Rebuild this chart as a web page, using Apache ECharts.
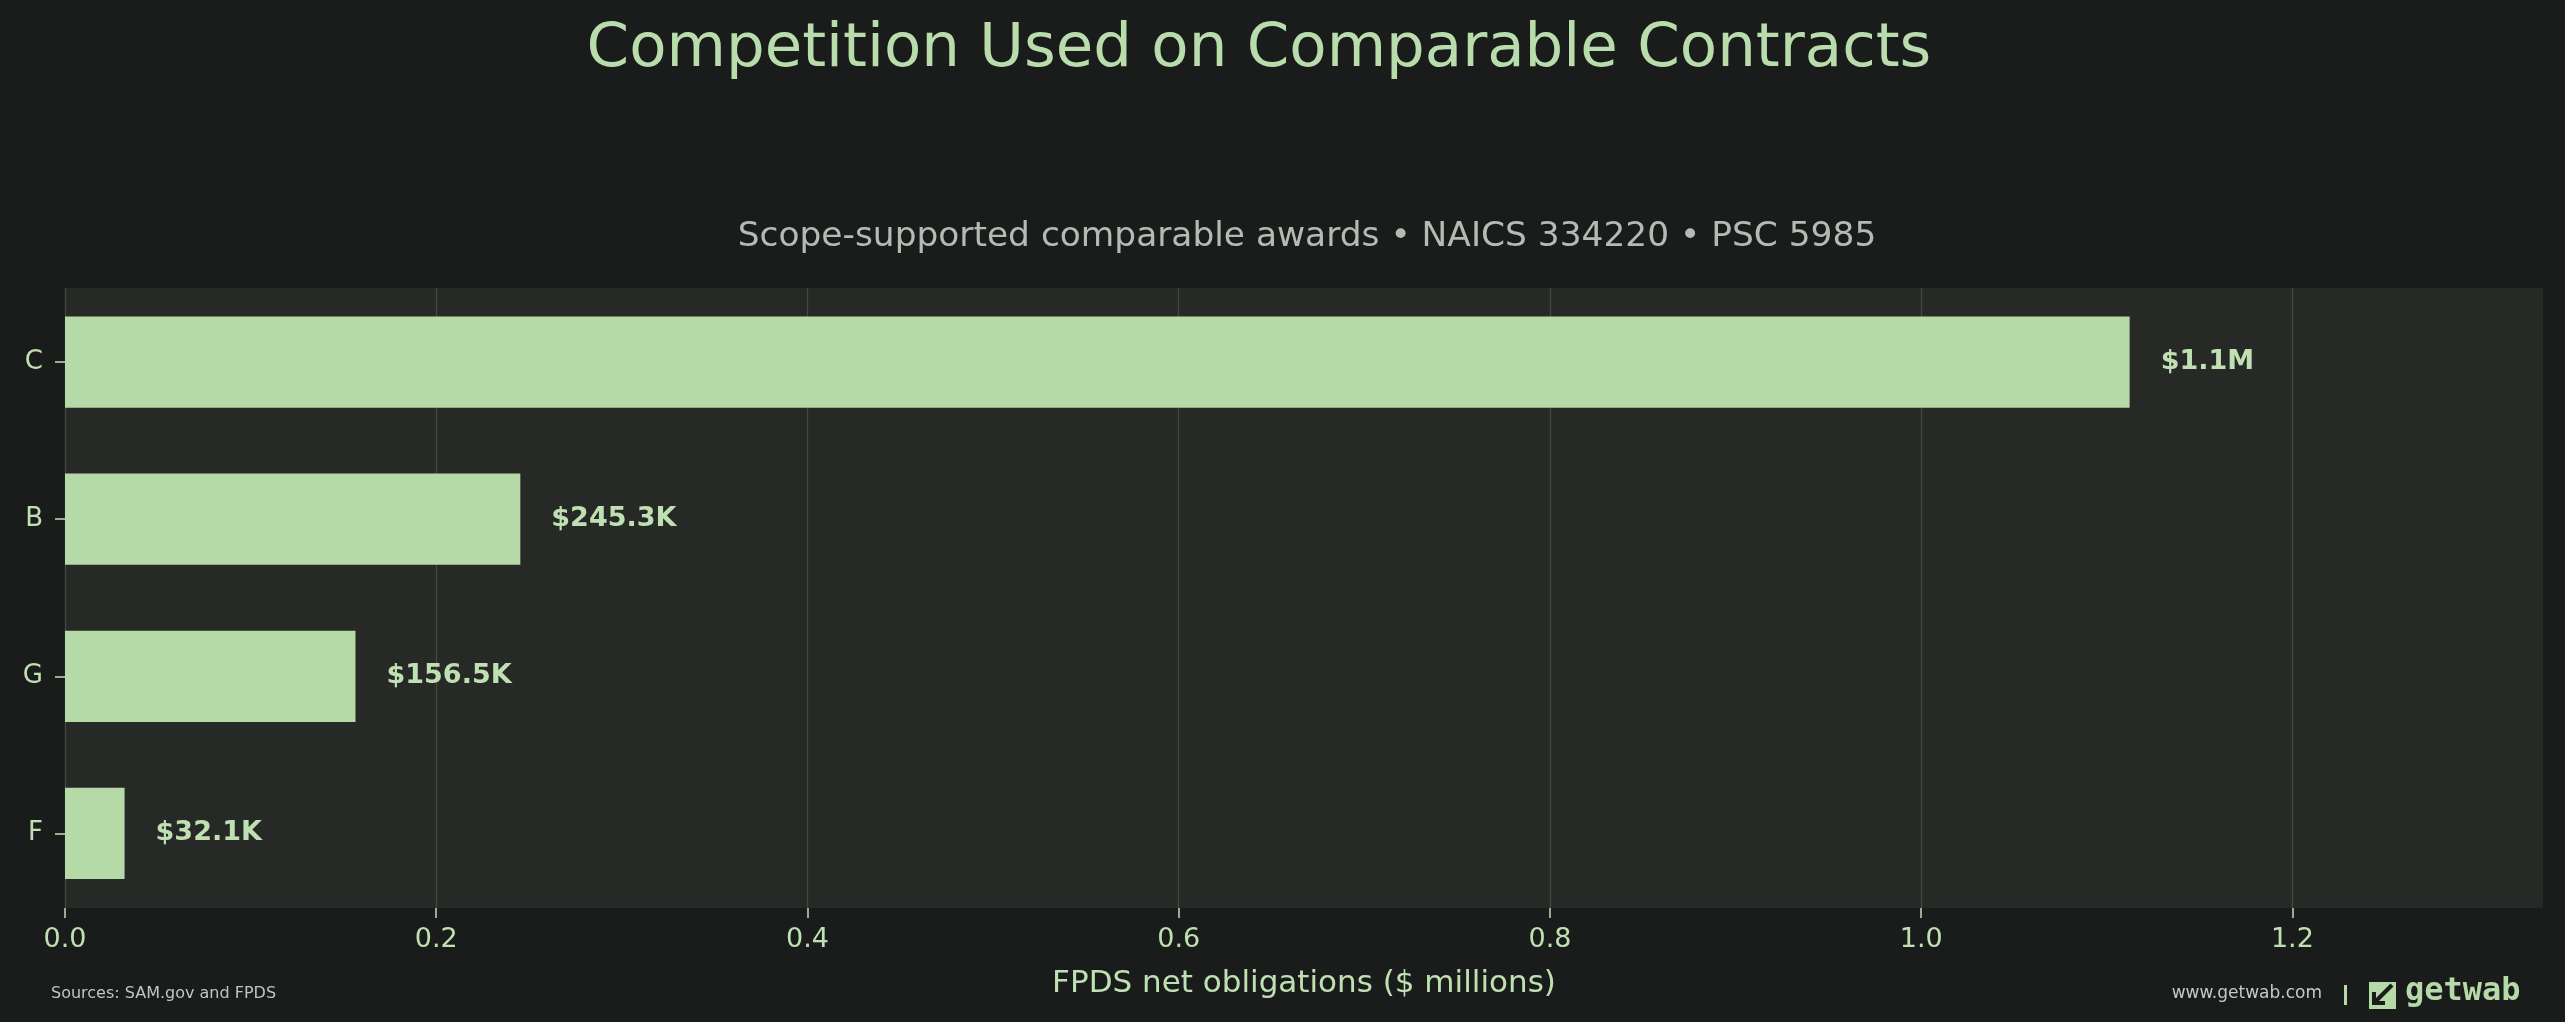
<!DOCTYPE html>
<html>
<head>
<meta charset="utf-8">
<script src="https://cdn.jsdelivr.net/npm/echarts@6/dist/echarts.min.js"></script>
<style>
html,body{margin:0;padding:0;background:#1a1c1b;}
#chart{width:2565px;height:1022px;}
</style>
</head>
<body>
<div id="chart"></div>
<script>
// ---- data ----
const categories = ['C', 'B', 'G', 'F'];
const obligations = [1.1123, 0.2453, 0.1565, 0.0321]; // $ millions
const tickValues = [0, 0.2, 0.4, 0.6, 0.8, 1.0, 1.2];
const axisMax = 1.335;

const titleText = 'Competition Used on Comparable Contracts';
const subtitleText = 'Scope-supported comparable awards \u2022 NAICS 334220 \u2022 PSC 5985';
const xAxisName = 'FPDS net obligations ($ millions)';
const sourceText = 'Sources: SAM.gov and FPDS';
const siteText = 'www.getwab.com';
const brandText = 'getwab';

function money(v) {
  if (v >= 1) return '$' + v.toFixed(1) + 'M';
  return '$' + (v * 1000).toFixed(1) + 'K';
}

const FONT = 'DejaVu Sans';
const GREEN = '#b5d9a7';
const LABEL = '#bfe0b2';

const chart = echarts.init(document.getElementById('chart'), null, {renderer: 'canvas'});
chart.setOption({
  backgroundColor: '#1a1c1b',
  animation: false,
  title: [
    {
      text: titleText, left: 1254, top: 15, textAlign: 'center',
      textStyle: {fontFamily: FONT, fontSize: 61, fontWeight: 'normal', color: '#b9dcac'}
    },
    {
      text: subtitleText, left: 1302, top: 215, textAlign: 'center',
      textStyle: {fontFamily: FONT, fontSize: 34.4, fontWeight: 'normal', color: '#b3bbb3'}
    }
  ],
  grid: [
    {left: 65, right: 22, top: 288, bottom: 114, show: true, backgroundColor: '#272927', borderWidth: 0},
    {left: 65, right: 22, top: 283.5, bottom: 110, show: false}
  ],
  xAxis: [
    {
      type: 'value', gridIndex: 0, min: 0, max: axisMax, interval: 0.2,
      name: xAxisName, nameLocation: 'middle', nameGap: 60,
      nameTextStyle: {fontFamily: FONT, fontSize: 31, color: LABEL},
      axisLine: {show: false},
      axisTick: {show: true, length: 10, lineStyle: {color: LABEL, width: 1.5}, customValues: tickValues},
      axisLabel: {
        fontFamily: FONT, fontSize: 27, color: LABEL, margin: 18,
        customValues: tickValues,
        formatter: v => v.toFixed(1)
      },
      splitLine: {show: true, lineStyle: {color: '#434743', width: 1.3}}
    },
    {
      type: 'value', gridIndex: 1, min: 0, max: axisMax, show: false
    }
  ],
  yAxis: [
    {type: 'value', gridIndex: 0, show: false, splitLine: {show: false}},
    {
      type: 'category', gridIndex: 1, data: categories, inverse: true,
      axisLine: {show: false},
      axisTick: {show: true, alignWithLabel: true, length: 10, lineStyle: {color: LABEL, width: 1.5}},
      axisLabel: {fontFamily: FONT, fontSize: 26, color: LABEL, margin: 22},
      splitLine: {show: false}
    }
  ],
  series: [{
    type: 'bar', xAxisIndex: 1, yAxisIndex: 1,
    data: obligations,
    barCategoryGap: '42%',
    itemStyle: {color: GREEN},
    label: {
      show: true, position: 'right', distance: 31,
      fontFamily: FONT, fontSize: 27, fontWeight: 'bold', color: LABEL,
      formatter: p => money(p.value)
    }
  }],
  graphic: [
    {type: 'text', left: 51, top: 986, style: {text: sourceText, font: '16px "DejaVu Sans"', fill: '#bfc5bf'}},
    {type: 'text', right: 2565 - 2322, top: 985, style: {text: siteText, font: '17px "DejaVu Sans"', fill: '#c5cac5'}},
    {type: 'rect', shape: {x: 2344, y: 985, width: 3, height: 20}, style: {fill: '#b5d9a7'}},
    {
      type: 'group', x: 2369, y: 982,
      children: [
        {type: 'rect', shape: {x: 0, y: 0, width: 27, height: 27}, style: {fill: GREEN}},
        {type: 'line', shape: {x1: 23, y1: 3, x2: 6, y2: 20}, style: {stroke: '#1a1c1b', lineWidth: 4}},
        {type: 'polyline', shape: {points: [[5, 10], [5, 21], [16, 21]]}, style: {stroke: '#1a1c1b', lineWidth: 4, fill: null}}
      ]
    },
    {type: 'text', left: 2405, top: 976, style: {text: brandText, font: 'bold 32px "DejaVu Sans Mono"', fill: GREEN}}
  ]
});
</script>
</body>
</html>
